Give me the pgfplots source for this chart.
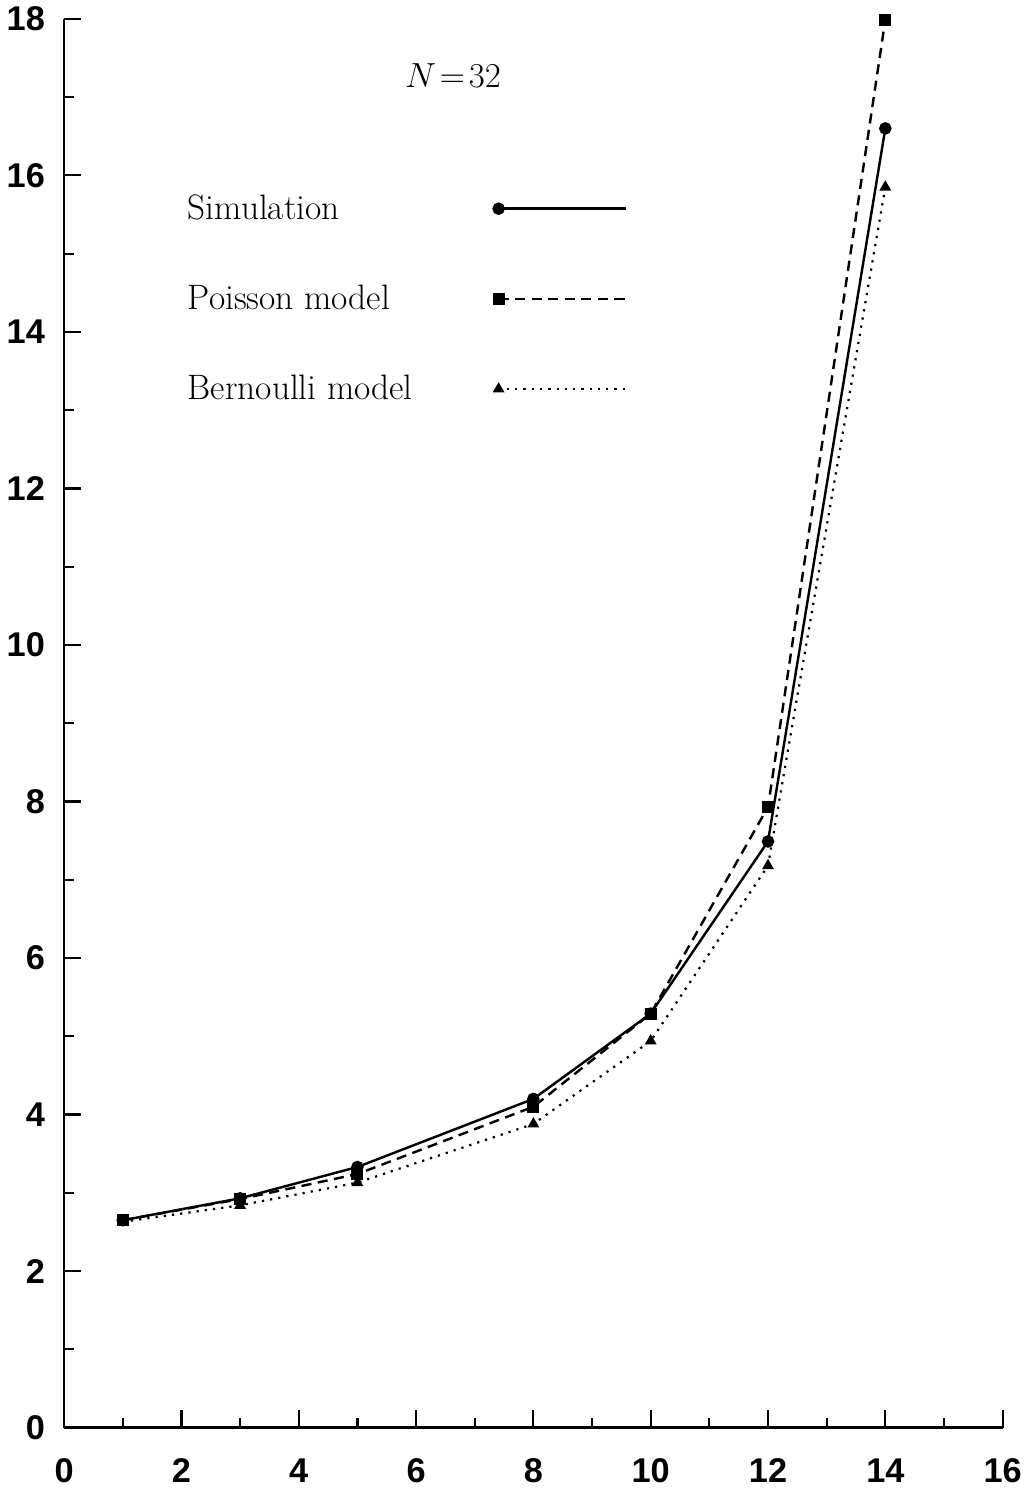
\documentclass[border=0pt]{standalone}
\usepackage{fontspec}
\usepackage{pgfplots}
\pgfplotsset{compat=1.18}
\newfontfamily\tickfont{Liberation Sans}
\pgfplotstableread{
x y
1 2.65
3 2.93
5 3.33
8 4.20
10 5.29
12 7.49
14 16.60
}\simtab
\pgfplotstableread{
x y
1 2.65
3 2.92
5 3.24
8 4.10
10 5.29
12 7.93
14 17.99
}\poitab
\pgfplotstableread{
x y
1 2.63
3 2.84
5 3.13
8 3.88
10 4.94
12 7.18
14 15.85
}\bertab
\begin{document}
\begin{tikzpicture}
\begin{axis}[
  scale only axis,
  width=465pt, height=698pt,
  xmin=0, xmax=16, ymin=0, ymax=18,
  axis lines*=left,
  axis line style={line width=1.2pt},
  xtick={0,2,...,16}, ytick={0,2,...,18},
  minor xtick={1,3,...,15}, minor ytick={1,3,...,17},
  tick align=inside,
  major tick length=8.5pt, minor tick length=5pt,
  tick style={line width=1.1pt, black},
  /pgf/number format/assume math mode=true,
  ticklabel style={font=\tickfont\bfseries\fontsize{17}{17}\selectfont},
  xticklabel style={yshift=-12pt},
  yticklabel style={xshift=-6pt},
  clip=false,
  legend plot pos=right,
  legend cell align=left,
  legend style={at={(axis cs:1.93,15.86)}, anchor=north west, draw=none, fill=none,
    font=\fontsize{17.5}{17.5}\selectfont, row sep=27pt,
    /tikz/every odd column/.append style={column sep=38pt}},
  legend image code/.code={%
    \draw[#1,mark repeat=2,mark phase=1] plot coordinates {(0pt,0pt) (63pt,0pt)};},
]
\addplot[black, line width=1.2pt, mark=*, mark size=2.5pt, mark options={solid}] table[x=x,y=y]{\simtab};
\addlegendentry{Simulation}
\addplot[black, line width=1.2pt, dash pattern=on 5pt off 3.2pt, mark=square*, mark size=2.4pt, mark options={solid}] table[x=x,y=y]{\poitab};
\addlegendentry{Poisson model}
\addplot[black, line width=1.1pt, dash pattern=on 1.1pt off 3pt, mark=triangle*, mark size=2.3pt, mark options={solid}] table[x=x,y=y]{\bertab};
\addlegendentry{Bernoulli model}
\node at (axis cs:6.63,17.28) {\fontsize{17}{17}\selectfont$N\!=\!32$};
\end{axis}
\end{tikzpicture}
\end{document}
